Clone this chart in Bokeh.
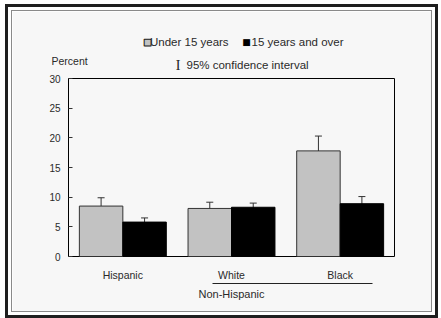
from bokeh.plotting import figure
from bokeh.models import (ColumnDataSource, FactorRange, Range1d, Whisker, TeeHead,
                          Label, CategoricalAxis, FixedTicker, Column)
from bokeh.transform import dodge
from bokeh.embed import file_html
from bokeh.resources import INLINE

# ---- data ----
categories = ["Hispanic", "White", "Black"]
under15 = [8.5, 8.1, 17.8]
under15_lower = [6.9, 6.9, 15.0]
under15_upper = [9.9, 9.15, 20.3]
over15 = [5.8, 8.3, 8.9]
over15_lower = [5.1, 7.6, 7.8]
over15_upper = [6.5, 9.0, 10.1]
y_ticks = [0, 5, 10, 15, 20, 25, 30]
series_labels = ["Under 15 years", "15 years and over"]
group_label = "Non-Hispanic"

FONT = "Liberation Sans"
TXT = "#2a2a2a"
BG = "#f7f7f7"
GRAY = "#c2c2c2"

src = ColumnDataSource(dict(cat=categories, u=under15, ulo=under15_lower, uhi=under15_upper,
                            o=over15, olo=over15_lower, ohi=over15_upper))

W, H = 419, 300
p = figure(x_range=FactorRange(*categories), y_range=Range1d(0, 30),
           width=W, height=H, output_backend="svg", toolbar_location=None,
           min_border_left=56, min_border_right=37, min_border_top=67, min_border_bottom=55)
p.background_fill_color = BG
p.border_fill_color = BG
p.outline_line_color = "black"
p.outline_line_width = 1
p.grid.visible = False

p.vbar(x=dodge("cat", -0.2, range=p.x_range), top="u", width=0.4, source=src,
       fill_color=GRAY, line_color="#333333", line_width=1)
p.vbar(x=dodge("cat", 0.2, range=p.x_range), top="o", width=0.4, source=src,
       fill_color="black", line_color="black", line_width=1)

for off, lo, hi in [(-0.2, "ulo", "uhi"), (0.2, "olo", "ohi")]:
    w = Whisker(source=src, base=dodge("cat", off, range=p.x_range), lower=lo, upper=hi,
                line_color="#333333", line_width=1,
                upper_head=TeeHead(size=7, line_color="#333333", line_width=1),
                lower_head=TeeHead(size=7, line_color="#333333", line_width=1))
    p.add_layout(w)

# y axis
ya = p.yaxis[0]
ya.ticker = FixedTicker(ticks=y_ticks)
ya.axis_line_color = None
ya.major_tick_in = 4
ya.major_tick_out = 0
ya.major_tick_line_color = "#333333"
ya.minor_tick_line_color = None
ya.major_label_standoff = 8
ya.major_label_text_font = FONT
ya.major_label_text_font_size = "10px"
ya.major_label_text_color = TXT

# x axis (categories)
xa = p.xaxis[0]
xa.axis_line_color = None
xa.major_tick_line_color = None
xa.major_tick_in = 0
xa.major_tick_out = 0
xa.major_label_standoff = 12
xa.major_label_text_font = FONT
xa.major_label_text_font_size = "10.5px"
xa.major_label_text_color = TXT

# group axis (Non-Hispanic underline)
ga = CategoricalAxis(bounds=(1.325, 2.797),
                     axis_label=group_label, axis_label_standoff=4,
                     axis_label_text_font=FONT, axis_label_text_font_size="11px",
                     axis_label_text_font_style="normal", axis_label_text_color=TXT,
                     axis_line_color="#222222", axis_line_width=1,
                     major_tick_line_color=None, minor_tick_line_color=None,
                     major_tick_in=0, major_tick_out=0, major_label_standoff=0,
                     major_label_text_font_size="0px", major_label_text_color=None)
p.add_layout(ga, "below")

# helpers: page px -> data coords (layout only)
def dx(px):
    return (px - 68) / (326 / 3)

def dy(py):
    return (256 - py) / (178 / 30)

def lab(text, px, py, side, size="11.5px", color=TXT, font=FONT, align="left", **kw):
    p.add_layout(Label(x=dx(px), y=dy(py), text=text, text_font=font, text_font_size=size,
                       text_color=color, text_align=align, text_baseline="middle", **kw),
                 side)

# symbols (narrow) go in the right margin panel, texts in the top margin panel
lab("■", 147, 41.5, "right", size="9px", color=GRAY, font="DejaVu Sans", align="center",
    text_outline_color="#222222")
lab("■", 246, 41.5, "right", size="9px", color="black", font="DejaVu Sans", align="center")
lab("I", 177.5, 64.5, "right", size="14px", color="#222222", font="Liberation Serif",
    align="center")
lab(series_labels[0], 149.5, 41.5, "above")
lab(series_labels[1], 251, 41.5, "above")
lab("95% confidence interval", 186, 64.5, "above")
lab("Percent", 51, 60.5, "above", size="10.5px")

inner = Column(p, styles={"outline": "1px solid #8a8a8a"})
root = Column(inner, styles={"margin": "11px 0 0 12px", "outline": "3px solid #1e1e1e",
                             "outline-offset": "4px"})

open("out.html", "w").write(file_html(root, INLINE))
